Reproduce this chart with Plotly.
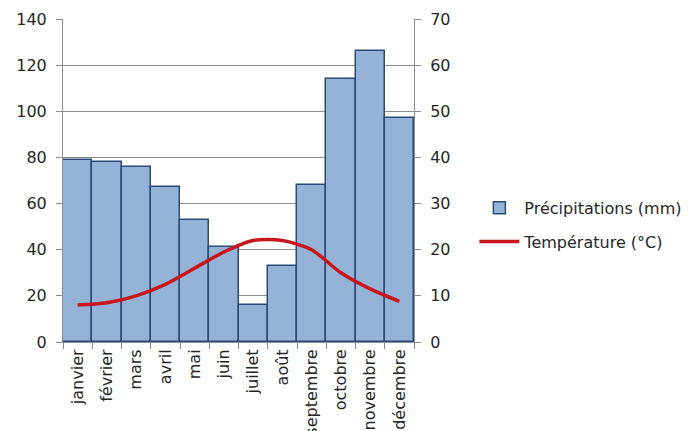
import plotly.graph_objects as go

mois = ["janvier", "février", "mars", "avril", "mai", "juin", "juillet",
        "août", "septembre", "octobre", "novembre", "décembre"]
precipitations = [79, 78, 76, 67, 53, 41, 16, 33, 68, 114, 126, 97]
temperature = [8, 8.5, 10, 12.5, 16, 19.5, 22, 22, 20, 15, 11.5, 8.8]

FONT = dict(family="DejaVu Sans", size=16, color="#262626")
GRID = "#8c8c8c"

fig = go.Figure()
fig.add_trace(go.Bar(
    x=mois, y=precipitations, name="Précipitations (mm)",
    marker=dict(color="#95B3D7", line=dict(color="#2A4A78", width=1.5)),
    yaxis="y", legendgroup="p",
))
fig.add_trace(go.Scatter(
    x=mois, y=temperature, name="Température (°C)", mode="lines",
    line=dict(color="#C8161D", width=3.5, shape="spline", smoothing=0.8),
    yaxis="y2", legendgroup="t",
))

fig.update_layout(
    width=699, height=431,
    margin=dict(l=55, r=293, t=11, b=97, autoexpand=False),
    paper_bgcolor="white", plot_bgcolor="white",
    font=FONT,
    bargap=0,
    showlegend=True,
    legend=dict(x=1.172, y=0.363, xanchor="left", yanchor="middle",
                font=dict(family="DejaVu Sans", size=16, color="#262626"),
                bgcolor="rgba(0,0,0,0)", tracegroupgap=10,
                traceorder="grouped", itemwidth=40),
    xaxis=dict(
        type="category", tickangle=-90, showline=True, linecolor=GRID,
        linewidth=1, ticks="outside", tickson="boundaries", ticklen=6,
        tickcolor=GRID, showgrid=False, tickfont=FONT, automargin=False,
    ),
    yaxis=dict(
        range=[0, 140], dtick=20, showline=True, linecolor=GRID, linewidth=1,
        ticks="outside", ticklen=6, tickcolor=GRID, showgrid=True,
        gridcolor=GRID, gridwidth=1, zeroline=False, tickfont=FONT,
        ticklabelstandoff=6, automargin=False,
    ),
    yaxis2=dict(
        range=[0, 70], dtick=10, overlaying="y", side="right", showline=True,
        linecolor=GRID, linewidth=1, ticks="outside", ticklen=6,
        tickcolor=GRID, showgrid=False, zeroline=False, tickfont=FONT,
        ticklabelstandoff=6, automargin=False,
    ),
)

fig.write_html("out.html")
